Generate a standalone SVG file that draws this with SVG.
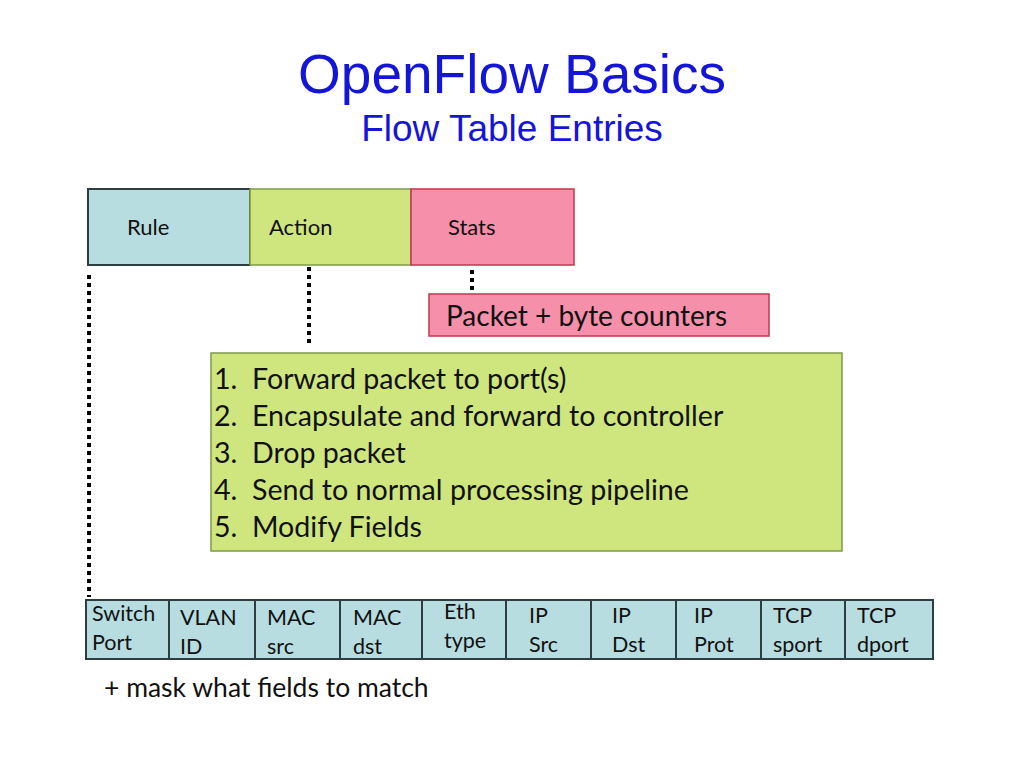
<svg xmlns="http://www.w3.org/2000/svg" width="1024" height="768" viewBox="0 0 1024 768">
<style>
.t{font-family:Lato,"Open Sans","Liberation Sans",sans-serif;fill:#111}
.teal{fill:#b7dde1;stroke:#2e3d3f;stroke-width:2}
.green{fill:#cfe67f;stroke:#7f9a4a;stroke-width:1.5}
.pink{fill:#f68fa9;stroke:#c0394f;stroke-width:1.5}
.dot{stroke:#000;stroke-width:4;stroke-dasharray:4 4;fill:none}
</style>
<rect width="1024" height="768" fill="#fff"/>
<g id="title">
<text x="512" y="93" text-anchor="middle" font-family="Liberation Sans,Arial,sans-serif" font-size="55" fill="#1515d8">OpenFlow Basics</text>
<text x="512" y="141" text-anchor="middle" font-family="Liberation Sans,Arial,sans-serif" font-size="37" fill="#1515d8">Flow Table Entries</text>
</g>
<g id="connectors">
<line class="dot" x1="89" y1="275" x2="89" y2="597"/>
<line class="dot" x1="309" y1="267" x2="309" y2="347"/>
<line class="dot" x1="472" y1="270" x2="472" y2="293"/>
</g>
<g id="rule"><rect class="teal" x="88" y="189" width="162" height="76" stroke-width="1.5"/><text class="t" x="127" y="235" font-size="22">Rule</text></g>
<g id="action"><rect class="green" x="250" y="189" width="161" height="76" stroke="#5f7a3a"/><text class="t" x="269" y="235" font-size="22">Action</text></g>
<g id="stats"><rect class="pink" x="411" y="189" width="163" height="76"/><text class="t" x="448" y="235" font-size="22">Stats</text></g>
<g id="counters"><rect class="pink" x="429" y="294" width="340" height="42"/><text class="t" x="446" y="326" font-size="28">Packet + byte counters</text></g>
<g id="actions-list"><rect class="green" x="211" y="353" width="631" height="198"/>
<text class="t" font-size="28.6"><tspan x="214" y="389">1.</tspan><tspan x="252" y="389">Forward packet to port(s)</tspan><tspan x="214" y="426">2.</tspan><tspan x="252" y="426">Encapsulate and forward to controller</tspan><tspan x="214" y="463">3.</tspan><tspan x="252" y="463">Drop packet</tspan><tspan x="214" y="500">4.</tspan><tspan x="252" y="500">Send to normal processing pipeline</tspan><tspan x="214" y="537">5.</tspan><tspan x="252" y="537">Modify Fields</tspan></text></g>
<g id="fields">
<g id="f1"><rect class="teal" x="86" y="600" width="83" height="59"/><text class="t" font-size="21.5"><tspan x="92" y="621">Switch</tspan><tspan x="92" y="650">Port</tspan></text></g>
<g id="f2"><rect class="teal" x="169" y="600" width="86" height="59"/><text class="t" font-size="21.5"><tspan x="180" y="625">VLAN</tspan><tspan x="180" y="654">ID</tspan></text></g>
<g id="f3"><rect class="teal" x="255" y="600" width="85" height="59"/><text class="t" font-size="21.5"><tspan x="267" y="625">MAC</tspan><tspan x="267" y="654">src</tspan></text></g>
<g id="f4"><rect class="teal" x="340" y="600" width="82" height="59"/><text class="t" font-size="21.5"><tspan x="353" y="625">MAC</tspan><tspan x="353" y="654">dst</tspan></text></g>
<g id="f5"><rect class="teal" x="422" y="600" width="84" height="59"/><text class="t" font-size="21.5"><tspan x="444" y="619">Eth</tspan><tspan x="444" y="648">type</tspan></text></g>
<g id="f6"><rect class="teal" x="506" y="600" width="85" height="59"/><text class="t" font-size="21.5"><tspan x="529" y="623">IP</tspan><tspan x="529" y="652">Src</tspan></text></g>
<g id="f7"><rect class="teal" x="591" y="600" width="85" height="59"/><text class="t" font-size="21.5"><tspan x="612" y="623">IP</tspan><tspan x="612" y="652">Dst</tspan></text></g>
<g id="f8"><rect class="teal" x="676" y="600" width="85" height="59"/><text class="t" font-size="21.5"><tspan x="694" y="623">IP</tspan><tspan x="694" y="652">Prot</tspan></text></g>
<g id="f9"><rect class="teal" x="761" y="600" width="84" height="59"/><text class="t" font-size="21.5"><tspan x="773" y="623">TCP</tspan><tspan x="773" y="652">sport</tspan></text></g>
<g id="f10"><rect class="teal" x="845" y="600" width="88" height="59"/><text class="t" font-size="21.5"><tspan x="857" y="623">TCP</tspan><tspan x="857" y="652">dport</tspan></text></g>
</g>
<text class="t" x="104" y="697" font-size="26.5">+ mask what fields to match</text>
</svg>
